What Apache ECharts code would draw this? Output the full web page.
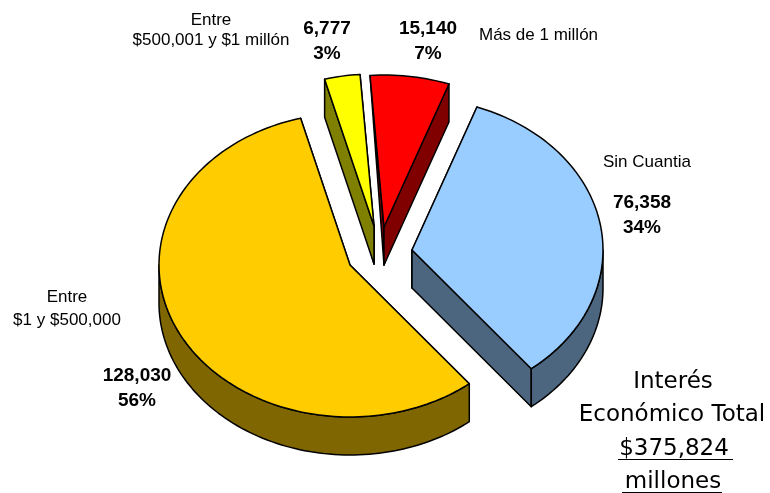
<!DOCTYPE html>
<html>
<head>
<meta charset="utf-8">
<style>
  html, body { margin: 0; padding: 0; background: #fff; }
  #main { width: 770px; height: 493px; }
</style>
<script src="https://cdn.jsdelivr.net/npm/echarts@6/dist/echarts.min.js"></script>
</head>
<body>
<div id="main"></div>
<script>
var categories = ['Más de 1 millón', 'Sin Cuantia', 'Entre\n$1 y $500,000', 'Entre\n$500,001 y $1 millón']
var values = [15140, 76358, 128030, 6777]
var percents = ['7%', '34%', '56%', '3%']
var totalLines = ['Interés', 'Económico Total', '$375,824', 'millones']

// look of the slices
var topColors = ['#ff0000', '#99ccff', '#ffcc00', '#ffff00']
var sideColors = ['#800000', '#4d6680', '#806600', '#808000']
var apex = [[384, 227], [412, 250], [350, 265], [374, 226]]
var rx = 191
var ry = 152
var depth = 38
var firstAngle = -4.2

var sum = values.reduce(function (a, b) { return a + b }, 0)
var rad = Math.PI / 180

function pointAt (c, deg, drop) {
  return [c[0] + rx * Math.sin(deg * rad), c[1] - ry * Math.cos(deg * rad) + (drop || 0)]
}

function arcPoints (c, from, to, drop) {
  var pts = []
  var n = Math.max(2, Math.ceil(Math.abs(to - from) / 1.5))
  for (var i = 0; i <= n; i++) {
    pts.push(pointAt(c, from + (to - from) * i / n, drop))
  }
  return pts
}

function poly (pts, fill) {
  return {
    type: 'polygon',
    shape: { points: pts },
    style: { fill: fill, stroke: '#000', lineWidth: 1.5, lineJoin: 'round' }
  }
}

function renderSlice (params, api) {
  var i = params.dataIndex
  var from = api.value(1)
  var to = api.value(2)
  var c = apex[i]
  var side = sideColors[i]
  var down = [c[0], c[1] + depth]
  var kids = []

  // walls turned away from us only show as a thin sliver
  kids.push(poly([pointAt(c, from), c, down], side))
  kids.push(poly([pointAt(c, to), c, down], side))
  if (Math.cos((from - 90) * rad) < -0.2) {
    kids.push(poly([c, pointAt(c, from), pointAt(c, from, depth), down], side))
  }
  if (Math.cos((to + 90) * rad) < -0.2) {
    kids.push(poly([c, pointAt(c, to), pointAt(c, to, depth), down], side))
  }
  // outer wall, front half only
  var a = Math.max(from, 90)
  var b = Math.min(to, 270)
  if (b > a) {
    kids.push(poly(arcPoints(c, a, b, 0).concat(arcPoints(c, b, a, depth)), side))
  }
  // top face
  kids.push(poly([c].concat(arcPoints(c, from, to, 0)), topColors[i]))
  return { type: 'group', children: kids }
}

var running = firstAngle
var sliceData = values.map(function (v) {
  var start = running
  running += v / sum * 360
  return [v, start, running]
})

function txt (text, x, y, size, bold, family, align, lineHeight) {
  return {
    type: 'text',
    x: x,
    y: y,
    silent: true,
    style: {
      text: text,
      fill: '#000',
      font: (bold ? 'bold ' : '') + size + 'px ' + (family || '"Liberation Sans", Arial, sans-serif'),
      align: align || 'center',
      verticalAlign: 'middle',
      lineHeight: lineHeight || 23
    }
  }
}

function valueLabel (i, x, y) {
  return [
    txt(values[i].toLocaleString('en-US'), x, y, 19, true),
    txt(percents[i], x, y + 25, 19, true)
  ]
}

function rule (x1, x2, y) {
  return {
    type: 'line',
    silent: true,
    shape: { x1: x1, y1: y, x2: x2, y2: y },
    style: { stroke: '#000', lineWidth: 1 }
  }
}

var wide = '"DejaVu Sans", sans-serif'
var texts = [
  txt(categories[0], 479, 35, 17, false, null, 'left'),
  txt(categories[1], 603, 162, 17, false, null, 'left'),
  txt(categories[2], 67, 309, 17),
  txt(categories[3], 211, 30, 17, false, null, 'center', 20),
  txt(totalLines[0], 673, 382, 23, false, wide),
  txt(totalLines[1], 672, 415, 23, false, wide),
  txt(totalLines[2], 674, 449, 23, false, wide),
  txt(totalLines[3], 673, 482, 23, false, wide),
  rule(618, 733, 459.5),
  rule(622, 722, 492.5)
].concat(
  valueLabel(0, 428, 29),
  valueLabel(1, 642, 203),
  valueLabel(2, 137, 376),
  valueLabel(3, 327, 29)
)

var myChart = echarts.init(document.getElementById('main'), null, { renderer: 'canvas' })
myChart.setOption({
  backgroundColor: '#fff',
  animation: false,
  series: [{
    type: 'custom',
    coordinateSystem: 'none',
    silent: true,
    renderItem: renderSlice,
    data: sliceData
  }],
  graphic: { elements: texts }
})
</script>
</body>
</html>
